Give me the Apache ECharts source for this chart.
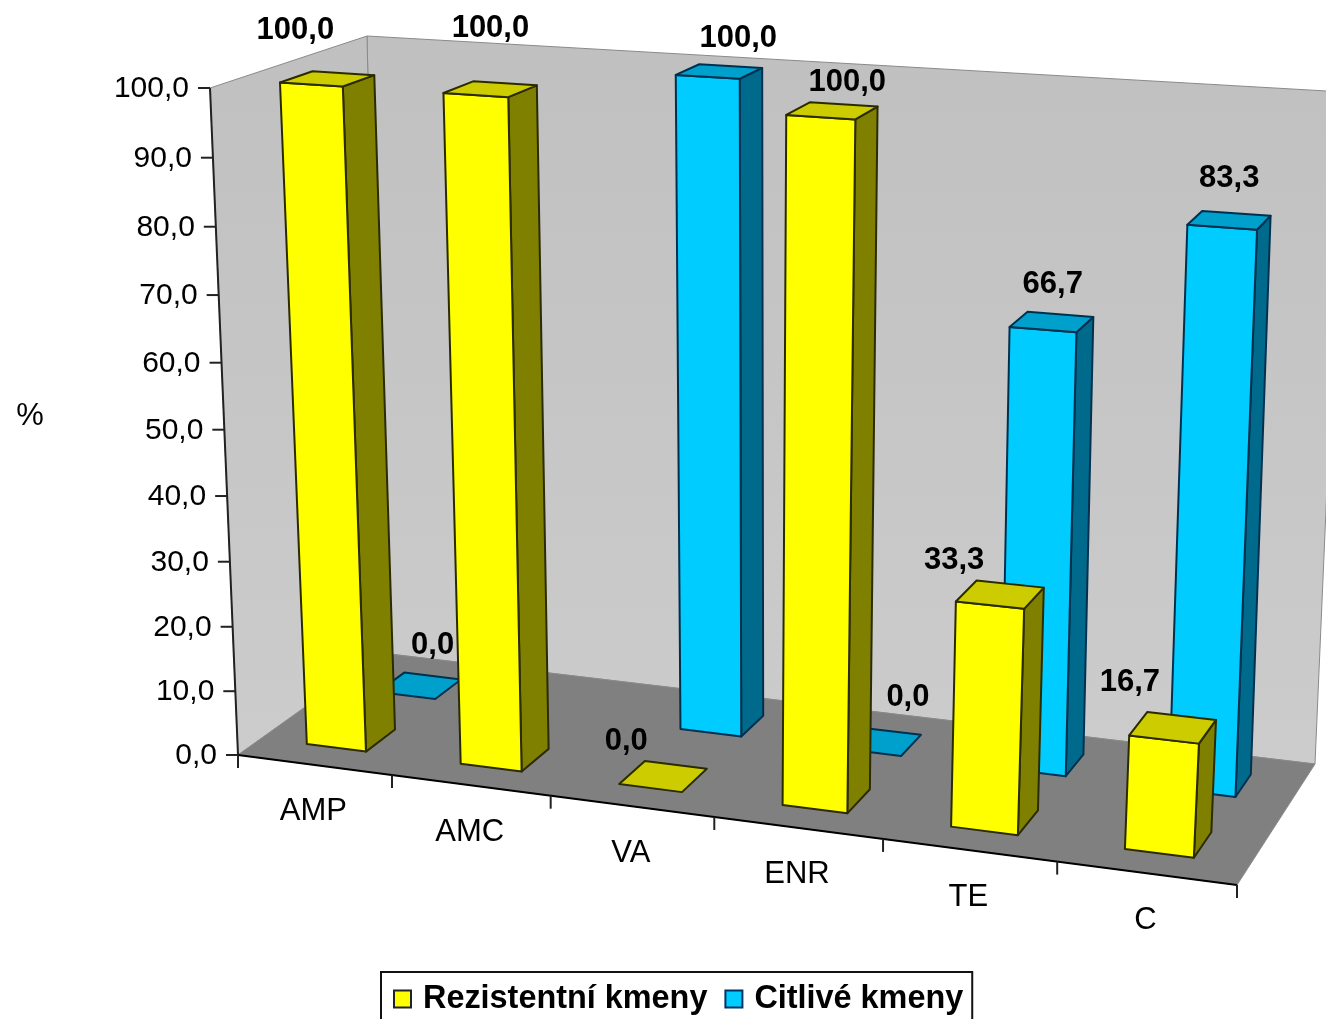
<!DOCTYPE html>
<html>
<head>
<meta charset="utf-8">
<style>html,body{margin:0;padding:0;background:#fff;overflow:hidden}#chart{width:1326px;height:1019px}</style>
<script src="https://cdn.jsdelivr.net/npm/echarts@6/dist/echarts.min.js"></script>
</head>
<body>
<div id="chart"></div>
<script>
// Antibiotic resistance by strain group, drawn as a perspective 3D column chart.
const categories = ['AMP', 'AMC', 'VA', 'ENR', 'TE', 'C'];
const resistant = [100, 100, 0, 100, 33.3, 16.7];
const sensitive = [0, null, 100, 0, 66.7, 83.3];
const valueTicks = [0, 10, 20, 30, 40, 50, 60, 70, 80, 90, 100];
const seriesNames = ['Rezistentní kmeny', 'Citlivé kmeny'];
const unitLabel = '%';

// Pixel corners of the plot box, indexed [category side][depth side][value side].
const box = [
  [[[238, 755], [210, 88]], [[381, 653], [367, 36]]],
  [[[1237, 885], [1279, 158]], [[1315, 764], [1344, 92]]]
];
const perspective = { u: -0.0888, d: 0.075, v: -0.048 };
// Columns lean slightly less than the box edges at their tops.
const columnLean = -4;

function project(u, d, v) {
  let sx = 0, sy = 0, sw = 0;
  for (let i = 0; i < 2; i++) for (let j = 0; j < 2; j++) for (let k = 0; k < 2; k++) {
    const t = (i ? u : 1 - u) * (j ? d : 1 - d) * (k ? v : 1 - v);
    const w = t * (1 + perspective.u * i + perspective.d * j + perspective.v * k);
    sx += w * box[i][j][k][0];
    sy += w * box[i][j][k][1];
    sw += w;
  }
  return [sx / sw, sy / sw];
}

function columnPoint(u, d, v) {
  const p = project(u, d, v);
  return [p[0] + columnLean * v, p[1]];
}

function fractions(params, api, cat, val) {
  const p = api.coord([cat, val]);
  const s = params.coordSys;
  return {
    u: (p[0] - s.x) / s.width,
    v: (s.y + s.height - p[1]) / s.height,
    band: api.size([1, 0])[0] / s.width
  };
}

const fmt = n => n.toFixed(1).replace('.', ',');
const poly = (pts, fill, stroke, lw) => ({
  type: 'polygon',
  shape: { points: pts },
  style: { fill: fill, stroke: stroke, lineWidth: lw, lineJoin: 'round' }
});
const seg = (a, b, color, lw) => ({
  type: 'line',
  shape: { x1: a[0], y1: a[1], x2: b[0], y2: b[1] },
  style: { stroke: color, lineWidth: lw }
});
const FONT = '"Liberation Sans", Arial, sans-serif';

// Value-label nudges from the centre of each column's top face.
const resistantNudge = [[-32, -48], [0, -61], [-37, -35], [15, -28], [-46, -34], [-43, -45]];
const sensitiveNudge = [[13, -40], [0, 0], [19, -33], [28, -44], [1, -38], [0, -42]];

function columnRenderer(depth, palette, nudges) {
  return function (params, api) {
    const cat = api.value(0), val = api.value(1);
    if (isNaN(val)) return null;
    const f = fractions(params, api, cat, val);
    const u0 = f.u - 0.2 * f.band, u1 = f.u + 0.188 * f.band;
    const [d0, d1] = depth;
    const v = f.v;
    const top = [columnPoint(u0, d0, v), columnPoint(u1, d0, v), columnPoint(u1, d1, v), columnPoint(u0, d1, v)];
    const children = [];
    if (val > 0) {
      children.push(poly([columnPoint(u1, d0, 0), columnPoint(u1, d1, 0), columnPoint(u1, d1, v), columnPoint(u1, d0, v)], palette.side, palette.edge, 2));
      children.push(poly([columnPoint(u0, d0, 0), columnPoint(u1, d0, 0), columnPoint(u1, d0, v), columnPoint(u0, d0, v)], palette.front, palette.edge, 2));
    }
    children.push(poly(top, palette.top, palette.edge, 2));
    const cx = top.reduce((a, p) => a + p[0], 0) / 4;
    const cy = top.reduce((a, p) => a + p[1], 0) / 4;
    const n = nudges[cat];
    children.push({
      type: 'text',
      x: cx + n[0], y: cy + n[1],
      style: { text: fmt(val), font: 'bold 31px ' + FONT, fill: '#000', align: 'center', verticalAlign: 'middle' }
    });
    return { type: 'group', children: children };
  };
}

function renderFrame() {
  const wall = { type: 'linear', x: 0, y: 0, x2: 0, y2: 1, colorStops: [{ offset: 0, color: '#c0c0c0' }, { offset: 1, color: '#cccccc' }] };
  const edge = '#8a8a8a';
  return {
    type: 'group',
    children: [
      poly([project(0, 1, 0), project(1, 1, 0), project(1, 1, 1), project(0, 1, 1)], wall, edge, 1),
      poly([project(0, 0, 0), project(0, 1, 0), project(0, 1, 1), project(0, 0, 1)], wall, edge, 1),
      poly([project(0, 0, 0), project(1, 0, 0), project(1, 1, 0), project(0, 1, 0)], '#808080', edge, 1),
      seg(project(0, 0, 0), project(0, 0, 1), '#222', 2),
      seg(project(0, 0, 0), project(1, 0, 0), '#000', 2),
      {
        type: 'text', x: 30, y: 416,
        style: { text: unitLabel, font: '31px ' + FONT, fill: '#000', align: 'center', verticalAlign: 'middle' }
      }
    ]
  };
}

function renderValueTick(params, api) {
  const t = api.value(1);
  const f = fractions(params, api, 0, t);
  const p = project(0, 0, f.v);
  return {
    type: 'group',
    children: [
      seg([p[0] - 12, p[1]], p, '#222', 2),
      {
        type: 'text', x: p[0] - 21, y: p[1] + 1,
        style: { text: fmt(t), font: '30px ' + FONT, fill: '#000', align: 'right', verticalAlign: 'middle' }
      }
    ]
  };
}

function renderCategoryTick(params, api) {
  const cat = api.value(0);
  const f = fractions(params, api, cat, 0);
  const right = project(f.u + f.band / 2, 0, 0);
  const children = [seg(right, [right[0], right[1] + 13], '#222', 2)];
  if (cat === 0) {
    const left = project(f.u - f.band / 2, 0, 0);
    children.push(seg(left, [left[0], left[1] + 13], '#222', 2));
  }
  const c = project(f.u, 0, 0);
  children.push({
    type: 'text', x: c[0] - 1, y: c[1] + 47,
    style: { text: categories[cat], font: '31px ' + FONT, fill: '#000', align: 'center', verticalAlign: 'middle' }
  });
  return { type: 'group', children: children };
}

const chart = echarts.init(document.getElementById('chart'), null, { renderer: 'canvas' });
chart.setOption({
  animation: false,
  backgroundColor: '#fff',
  grid: { left: 0, right: 0, top: 0, bottom: 0 },
  xAxis: { type: 'category', data: categories, show: false },
  yAxis: { type: 'value', min: 0, max: 100, interval: 10, show: false },
  legend: {
    left: 381, top: 972,
    orient: 'horizontal',
    padding: [11, 9, 10, 12],
    borderColor: '#111',
    borderWidth: 2,
    backgroundColor: '#fff',
    itemWidth: 17, itemHeight: 17, itemGap: 17,
    selectedMode: false,
    textStyle: { fontFamily: FONT, fontWeight: 'bold', fontSize: 32.4, color: '#000', padding: [0, 0, 0, 7] },
    data: [
      { name: seriesNames[0], icon: 'rect', itemStyle: { borderColor: '#222', borderWidth: 2 } },
      { name: seriesNames[1], icon: 'rect', itemStyle: { borderColor: '#003366', borderWidth: 2 } }
    ]
  },
  series: [
    { type: 'custom', name: 'frame', z: 1, silent: true, clip: false, data: [[0, 0]], encode: { x: 0, y: 1 }, renderItem: renderFrame },
    { type: 'custom', name: 'valueTicks', z: 1, silent: true, clip: false, data: valueTicks.map(t => [0, t]), encode: { x: 0, y: 1 }, renderItem: renderValueTick },
    { type: 'custom', name: 'categoryTicks', z: 1, silent: true, clip: false, data: categories.map((c, i) => [i, 0]), encode: { x: 0, y: 1 }, renderItem: renderCategoryTick },
    {
      type: 'custom', name: seriesNames[0], z: 3, clip: false,
      itemStyle: { color: '#ffff00' },
      data: resistant.map((v, i) => [i, v]), encode: { x: 0, y: 1 },
      renderItem: columnRenderer([0.155, 0.36], { front: '#ffff00', side: '#808000', top: '#cccc00', edge: '#2b2b00' }, resistantNudge)
    },
    {
      type: 'custom', name: seriesNames[1], z: 2, clip: false,
      itemStyle: { color: '#00ccff' },
      data: sensitive.map((v, i) => [i, v]), encode: { x: 0, y: 1 },
      renderItem: columnRenderer([0.655, 0.85], { front: '#00ccff', side: '#006a8c', top: '#00a0cc', edge: '#00304f' }, sensitiveNudge)
    }
  ]
});
</script>
</body>
</html>
